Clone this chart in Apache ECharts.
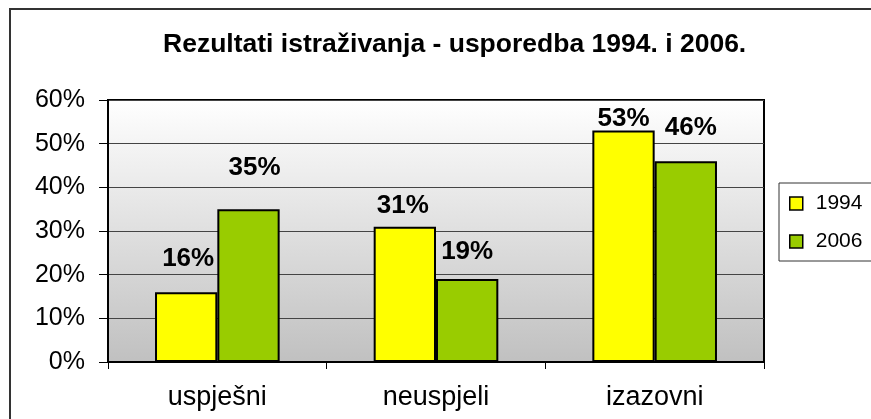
<!DOCTYPE html>
<html>
<head>
<meta charset="utf-8">
<script src="https://cdn.jsdelivr.net/npm/echarts@6/dist/echarts.min.js"></script>
<style>
html,body{margin:0;padding:0;background:#fff;}
#main{width:871px;height:419px;}
</style>
</head>
<body>
<div id="main"></div>
<script>
const titleText = 'Rezultati istraživanja - usporedba 1994. i 2006.';
const categories = ['uspješni', 'neuspjeli', 'izazovni'];
const seriesNames = ['1994', '2006'];
const values1994 = [16, 31, 53];
const values2006 = [35, 19, 46];
const yTicks = { min: 0, max: 60, interval: 10 };

// label placement tweaks (style only)
const labelOffsets1994 = [[2, -16], [-2, -3], [0, 5.5]];
const labelOffsets2006 = [[6, -24], [0, -10], [5, -15.5]];

const FONT = '"Liberation Sans", Arial, Helvetica, sans-serif';
const colors = ['#FFFF00', '#99CC00'];

function buildData(vals, offs) {
  return vals.map((v, i) => ({ value: v, label: { offset: offs[i] } }));
}

const chart = echarts.init(document.getElementById('main'));
chart.setOption({
  backgroundColor: '#fff',
  animation: false,
  title: {
    text: titleText,
    left: 163,
    top: 32,
    padding: 0,
    textStyle: { fontFamily: FONT, fontSize: 26.5, fontWeight: 'bold', color: '#000', lineHeight: 26 }
  },
  graphic: [{
    type: 'rect',
    shape: { x: 10, y: 9, width: 880, height: 440 },
    style: { fill: 'none', stroke: '#333', lineWidth: 2 },
    z: 0
  }],
  legend: {
    orient: 'vertical',
    left: 779,
    top: 183,
    padding: [10, 30, 9, 10],
    itemGap: 17,
    itemWidth: 13,
    itemHeight: 13,
    icon: 'rect',
    borderColor: '#333',
    borderWidth: 1,
    itemStyle: { borderColor: '#000', borderWidth: 1.5 },
    textStyle: { fontFamily: FONT, fontSize: 21, color: '#000', lineHeight: 21, padding: [0, 0, 0, 8] },
    data: seriesNames
  },
  grid: {
    left: 108,
    top: 100,
    width: 656,
    height: 262,
    show: true,
    borderColor: '#000',
    borderWidth: 2,
    backgroundColor: {
      type: 'linear', x: 0, y: 0, x2: 0, y2: 1,
      colorStops: [{ offset: 0, color: '#ffffff' }, { offset: 1, color: '#c0c0c0' }]
    }
  },
  xAxis: {
    type: 'category',
    data: categories,
    axisLine: { show: true, lineStyle: { color: '#000', width: 2 } },
    axisTick: { show: true, length: 7, lineStyle: { color: '#000', width: 1 } },
    axisLabel: { fontFamily: FONT, fontSize: 27, color: '#000', margin: 22 }
  },
  yAxis: {
    type: 'value',
    min: yTicks.min,
    max: yTicks.max,
    interval: yTicks.interval,
    axisLine: { show: true, lineStyle: { color: '#000', width: 2 } },
    axisTick: { show: true, length: 9, lineStyle: { color: '#000', width: 1 } },
    axisLabel: { fontFamily: FONT, fontSize: 25, color: '#000', margin: 23, formatter: '{value}%' },
    splitLine: { show: true, lineStyle: { color: '#444', width: 1 } }
  },
  series: [
    {
      name: seriesNames[0],
      type: 'bar',
      data: buildData(values1994, labelOffsets1994),
      barGap: '0%',
      barCategoryGap: '43%',
      itemStyle: { color: colors[0], borderColor: '#000', borderWidth: 2 },
      label: { show: true, position: 'top', distance: 5, formatter: '{c}%', fontFamily: FONT, fontSize: 26, fontWeight: 'bold', color: '#000', lineHeight: 25 }
    },
    {
      name: seriesNames[1],
      type: 'bar',
      data: buildData(values2006, labelOffsets2006),
      barGap: '0%',
      barCategoryGap: '43%',
      itemStyle: { color: colors[1], borderColor: '#000', borderWidth: 2 },
      label: { show: true, position: 'top', distance: 5, formatter: '{c}%', fontFamily: FONT, fontSize: 26, fontWeight: 'bold', color: '#000', lineHeight: 25 }
    }
  ]
});
</script>
</body>
</html>
